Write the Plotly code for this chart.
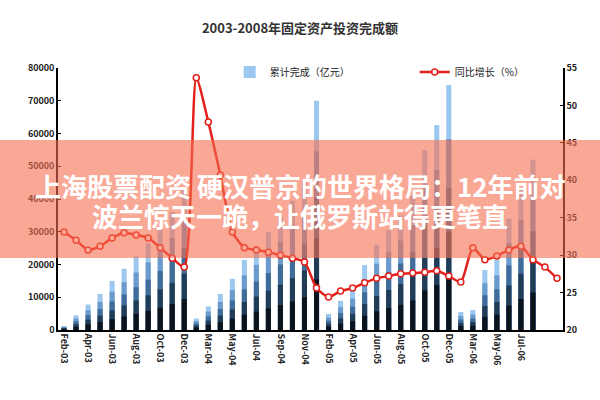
import plotly.graph_objects as go

# ---------------- data ----------------
months = ["Feb-03","Mar-03","Apr-03","May-03","Jun-03","Jul-03","Aug-03","Sep-03","Oct-03","Nov-03","Dec-03",
          "Feb-04","Mar-04","Apr-04","May-04","Jun-04","Jul-04","Aug-04","Sep-04","Oct-04","Nov-04","Dec-04",
          "Feb-05","Mar-05","Apr-05","May-05","Jun-05","Jul-05","Aug-05","Sep-05","Oct-05","Nov-05","Dec-05",
          "Feb-06","Mar-06","Apr-06","May-06","Jun-06","Jul-06","Aug-06","Sep-06","Oct-06"]
cumulative = [1200, 4500, 7800, 11000, 15000, 18700, 22500, 26500, 31000, 36000, 43000,
              3500, 7200, 11000, 15600, 21400, 25500, 30000, 34500, 39500, 45500, 70000,
              4900, 8900, 12300, 19800, 26000, 30500, 35000, 41000, 55000, 62600, 74800,
              5500, 6100, 18300, 21400, 34000, 43000, 52000, None, None]
growth = [33.1, 32.0, 30.7, 31.2, 32.3, 33.0, 32.7, 32.3, 31.0, 29.6, 28.4,
          53.7, 47.8, 40.7, 33.1, 31.0, 30.7, 30.4, 30.0, 29.6, 29.1, 25.6,
          24.4, 25.2, 25.6, 26.3, 26.9, 27.2, 27.5, 27.6, 27.7, 27.9, 27.2,
          26.4, 31.0, 29.4, 29.9, 30.7, 31.2, 29.4, 28.4, 26.9]
tick_labels = ["Feb-03","Apr-03","Jun-03","Aug-03","Oct-03","Dec-03","Mar-04","May-04","Jul-04",
               "Sep-04","Nov-04","Feb-05","Apr-05","Jun-05","Aug-05","Oct-05","Dec-05",
               "Mar-06","May-06","Jul-06"]
title_text = "2003-2008年固定资产投资完成额"
bar_name = "累计完成（亿元）"
line_name = "同比增长（%）"
overlay_line1 = "上海股票配资 硬汉普京的世界格局：12年前对"
overlay_line2 = "波兰惊天一跪，让俄罗斯站得更笔直"

# ---------------- figure ----------------
FONT = "Noto Sans CJK SC"
fig = go.Figure()

# gradient bars: overlaid layers, light top -> dark bottom
layers = [(1.00, "#9cc8f0"), (0.78, "#6a9bcc"), (0.58, "#3f6c98"),
          (0.40, "#213c56"), (0.22, "#0b141d")]
for i, (frac, col) in enumerate(layers):
    fig.add_trace(go.Bar(
        x=months,
        y=[v * frac if v is not None else None for v in cumulative],
        name=bar_name, showlegend=(i == 0),
        marker=dict(color=col, line=dict(width=0)),
        width=0.42, yaxis="y", hoverinfo="skip"))

fig.add_trace(go.Scatter(
    x=months, y=growth, name=line_name, yaxis="y2",
    mode="lines+markers", line=dict(color="#e3201b", width=2.5, shape="spline", smoothing=0.6),
    marker=dict(size=6, color="white", line=dict(color="#e3201b", width=1.5))))

tick_font = dict(family=FONT, size=9, color="#222", weight="bold")

fig.update_layout(
    width=600, height=400,
    margin=dict(l=58, r=37, t=68, b=70, autoexpand=False),
    paper_bgcolor="white", plot_bgcolor="white",
    barmode="overlay", bargap=0.5,
    title=dict(text=title_text, x=0.5, xanchor="center", y=0.93, yanchor="middle",
               font=dict(family=FONT, size=13, color="#333", weight="bold")),
    xaxis=dict(type="category", categoryorder="array", categoryarray=months,
               range=[-0.5, len(months) - 0.5],
               tickmode="array", tickvals=tick_labels, ticktext=tick_labels,
               tickangle=90, tickfont=tick_font, showgrid=False,
               showline=True, linecolor="black", linewidth=1.5, ticks=""),
    yaxis=dict(range=[0, 80000], dtick=10000, showgrid=False, zeroline=False,
               showline=True, linecolor="black", linewidth=1.5,
               ticks="inside", ticklen=3, tickcolor="black", tickfont=tick_font,
               tickformat="d"),
    yaxis2=dict(range=[20, 55], dtick=5, overlaying="y", side="right", showgrid=False,
                zeroline=False, showline=True, linecolor="black", linewidth=1.5,
                ticks="inside", ticklen=3, tickcolor="black", tickfont=tick_font),
    legend=dict(orientation="h", x=0.34, xanchor="left", y=0.985, yanchor="middle",
                bgcolor="rgba(0,0,0,0)", font=dict(family=FONT, size=10, color="#222"),
                entrywidth=140, entrywidthmode="pixels", traceorder="normal"),
    showlegend=True,
)

# salmon overlay band with text
fig.add_shape(type="rect", xref="paper", yref="paper",
              x0=-0.2, x1=1.2, y0=(330 - 258) / 262, y1=(330 - 140) / 262,
              fillcolor="rgba(245,110,80,0.6)", line=dict(width=0), layer="above")
fig.add_annotation(text=overlay_line1, xref="paper", yref="paper",
                   x=(300 - 58) / 505, y=(330 - 185) / 262, showarrow=False,
                   font=dict(family=FONT, size=26, color="white", weight="bold"))
fig.add_annotation(text=overlay_line2, xref="paper", yref="paper",
                   x=(300 - 58) / 505, y=(330 - 215) / 262, showarrow=False,
                   font=dict(family=FONT, size=26, color="white", weight="bold"))

fig.write_html("out.html")
